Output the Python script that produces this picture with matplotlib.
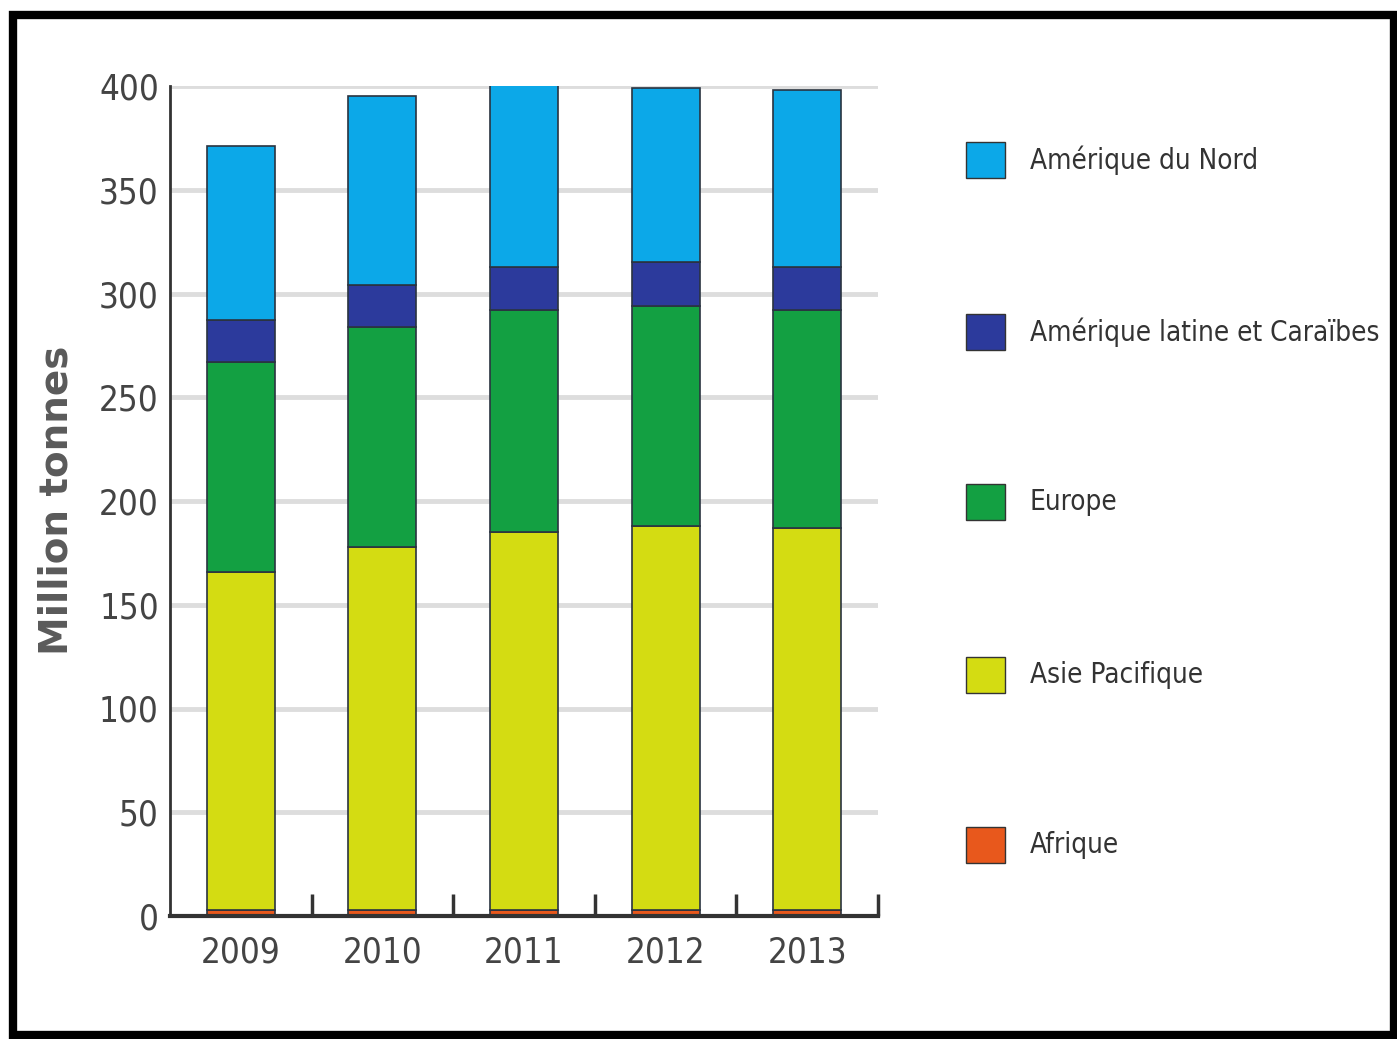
import matplotlib.pyplot as plt
from matplotlib.patches import Rectangle
from matplotlib import font_manager

years = ["2009", "2010", "2011", "2012", "2013"]
series = ["Afrique", "Asie Pacifique", "Europe", "Amérique latine et Caraïbes", "Amérique du Nord"]
afrique = [3, 3, 3, 3, 3]
asie = [163, 175, 182, 185, 184]
europe = [101, 106, 107, 106, 105]
latine = [20, 20, 21, 21, 21]
nord = [84, 91, 89, 84, 85]
values = [afrique, asie, europe, latine, nord]
colors = ["#e8581c", "#d4dc12", "#13a042", "#2c3a9c", "#0ca8e8"]
yticks = [0, 50, 100, 150, 200, 250, 300, 350, 400]

# condensed DejaVu if present, otherwise a smaller regular size
has_cond = any(f.name == "DejaVu Sans" and f.stretch == "condensed"
               for f in font_manager.fontManager.ttflist)
tick_font = dict(family="DejaVu Sans", stretch="condensed", size=25) if has_cond \
    else dict(family="DejaVu Sans", size=20)
leg_font = dict(family="DejaVu Sans", stretch="condensed", size=20) if has_cond \
    else dict(family="DejaVu Sans", size=16)

W, H = 1397, 1039
fig = plt.figure(figsize=(W / 100, H / 100), dpi=100)
ax = fig.add_axes([170 / W, 123 / H, 708 / W, 830 / H])

x = list(range(len(years)))
bottom = [0] * len(years)
for vals, col in zip(values, colors):
    ax.bar(x, vals, width=0.48, bottom=bottom, color=col,
           edgecolor="#2a3340", linewidth=1.2, zorder=3)
    bottom = [b + v for b, v in zip(bottom, vals)]

ax.set_xlim(-0.5, 4.5)
ax.set_ylim(0, 400)
ax.set_yticks(yticks)
ax.set_yticklabels([str(t) for t in yticks], color="#444444", **tick_font)
ax.set_xticks(x)
ax.set_xticklabels(years, color="#444444", **tick_font)
ax.tick_params(axis="y", length=0, pad=8)
ax.tick_params(axis="x", length=0, pad=14)
ax.set_xticks([i + 0.5 for i in x], minor=True)
ax.tick_params(axis="x", which="minor", direction="in", length=16, width=2.5, color="#333333")

ax.yaxis.grid(True, color="#dddddd", linewidth=3.5, zorder=0)
ax.set_axisbelow(True)
for s in ["top", "right"]:
    ax.spines[s].set_visible(False)
ax.spines["bottom"].set_linewidth(3)
ax.spines["bottom"].set_color("#333333")
ax.spines["bottom"].set_zorder(4)
ax.spines["left"].set_linewidth(2)
ax.spines["left"].set_color("#333333")
ax.spines["left"].set_bounds(0, 400)

ax.set_ylabel("Million tonnes", fontsize=28, fontweight="bold", color="#5a5a5a")
ax.yaxis.set_label_coords((76 - 170) / 708, (1039 - 500 - 123) / 830)

# legend drawn on the right, top entry is Amérique du Nord
leg_y = [160, 332, 502, 675, 845]
for yy, name, col in zip(leg_y, series[::-1], colors[::-1]):
    fig.patches.append(Rectangle((966 / W, 1 - (yy + 18) / H), 39 / W, 36 / H,
                                 transform=fig.transFigure, facecolor=col,
                                 edgecolor="#333333", linewidth=1))
    fig.text(1030 / W, 1 - yy / H, name, color="#333333", va="center", ha="left", **leg_font)

# black frame around the picture
fig.patches.append(Rectangle((13 / W, 4 / H), 1381 / W, 1020 / H,
                             transform=fig.transFigure, fill=False,
                             edgecolor="black", linewidth=6))

fig.savefig("out.png", dpi=100)
